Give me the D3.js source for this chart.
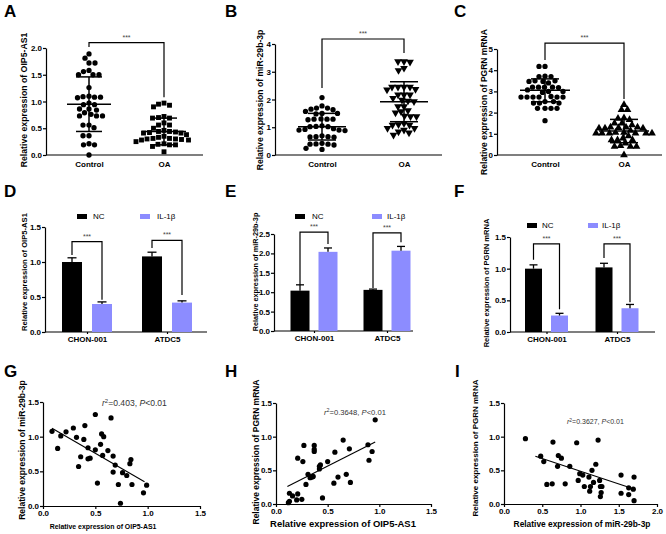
<!DOCTYPE html>
<html lang="en">
<head>
<meta charset="utf-8">
<title>OIP5-AS1 / miR-29b-3p / PGRN</title>
<script src="https://cdn.jsdelivr.net/npm/d3@7"></script>
<style>
  body { margin: 0; background: #fff; }
  svg { font-family: "Liberation Sans", Arial, sans-serif; }
  .axis path, .axis line, .base { stroke: #000; stroke-width: 1.2; fill: none; }
  .axis text { font-size: 8px; font-weight: bold; fill: #000; }
  .title { font-weight: bold; fill: #000; }
  .letter { font-size: 17px; font-weight: bold; }
  .stars { font-size: 7px; fill: #444; text-anchor: middle; }
  .bracket { stroke: #000; stroke-width: 1.2; fill: none; }
  .legend { font-size: 8px; fill: #000; }
  .note { fill: #333; }
</style>
</head>
<body>
<script>
// ---------- A-C: scatter of individual samples ----------
var groupsAC = ["Control", "OA"]

var aControl = [1.89, 1.81, 1.72, 1.72, 1.56, 1.5, 1.5, 1.5, 1.58, 1.26, 1.08, 1.1, 1.09, 1.08, 1.07,
  0.97, 0.94, 0.94, 0.86, 0.84, 0.86, 0.73, 0.73, 0.73, 0.76, 0.79, 0.56, 0.56, 0.51, 0.36, 0.36,
  0.19, 0.19, 0.21, 0.0]
var aOA = [0.95, 0.9, 0.93, 0.97, 0.69, 0.72, 0.69, 0.7, 0.56, 0.56, 0.6, 0.41, 0.42, 0.44, 0.46,
  0.41, 0.44, 0.43, 0.3, 0.31, 0.28, 0.33, 0.31, 0.28, 0.29, 0.3, 0.19, 0.2, 0.16, 0.19, 0.21,
  0.06, 0.38, 0.5, 0.25, 0.35]
var aMean = [0.95, 0.44]
var aSD = [0.51, 0.25]

var bControl = [2.07, 1.69, 1.63, 1.65, 1.69, 1.77, 1.5, 1.57, 1.5, 1.48, 1.29, 1.27, 1.29, 1.3, 1.29,
  1.05, 1.02, 1.03, 1.02, 0.9, 0.9, 0.88, 0.92, 0.66, 0.64, 0.66, 0.69, 0.65, 0.42, 0.39, 0.36,
  0.4, 0.39, 0.2, 0.24, 0.95]
var bOA = [3.37, 3.35, 3.37, 3.13, 3.05, 2.45, 2.45, 2.45, 2.45, 2.37, 2.35, 2.17, 2.17, 2.17, 2.05,
  1.93, 1.98, 1.95, 1.75, 1.75, 1.57, 1.52, 1.6, 1.39, 1.39, 1.41, 1.08, 1.08, 1.1, 1.14, 0.96,
  0.9, 0.84, 0.96, 0.72, 0.8]
var bMean = [1.02, 1.92]
var bSD = [0.48, 0.72]

var cControl = [4.18, 4.18, 3.7, 3.72, 3.7, 3.5, 3.47, 3.4, 3.47, 3.5, 3.2, 3.2, 3.18, 3.2, 3.2,
  3.0, 3.07, 3.0, 2.95, 2.73, 2.73, 2.73, 2.76, 2.73, 2.73, 2.73, 2.45, 2.45, 2.45, 2.52, 2.52,
  2.2, 2.2, 2.2, 2.2, 1.62]
var cOA = [2.37, 2.13, 2.13, 1.72, 1.75, 1.5, 1.42, 1.5, 1.66, 1.31, 1.26, 1.26, 1.31, 1.31, 1.26,
  1.29, 1.03, 1.03, 1.03, 1.03, 1.03, 1.06, 1.06, 1.03, 0.71, 0.71, 0.79, 0.71, 0.4, 0.4, 0.4,
  0.43, 0.0, 0.9, 0.55, 1.15]
var cMean = [3.05, 1.13]
var cSD = [0.54, 0.55]

// significance brackets: [top, left leg bottom, right leg bottom] in data units
var aBracket = [2.1, 2.02, 1.08]
var bBracket = [4.18, 2.41, 3.68]
var cBracket = [5.28, 4.48, 2.64]

// ---------- D-F: bar charts, mean + SEM ----------
var cellLines = ["CHON-001", "ATDC5"]
var treatments = ["NC", "IL-1β"]

var dNC = [1.0, 1.08], dNCerr = [0.06, 0.06]
var dIL = [0.40, 0.42], dILerr = [0.03, 0.025]
var eNC = [1.04, 1.06], eNCerr = [0.15, 0.02]
var eIL = [2.04, 2.07], eILerr = [0.1, 0.11]
var fNC = [1.0, 1.02], fNCerr = [0.06, 0.065]
var fIL = [0.26, 0.375], fILerr = [0.035, 0.06]

var dBrackets = [[1.29, 1.1, 0.46], [1.31, 1.2, 0.53]]
var eBrackets = [[2.55, 1.19, 2.24], [2.53, 1.11, 2.29]]
var fBrackets = [[1.39, 1.14, 0.36], [1.39, 1.17, 0.47]]

// ---------- G-I: correlations ----------
var gX = [0.086, 0.14, 0.17, 0.22, 0.29, 0.32, 0.34, 0.36, 0.40, 0.39, 0.43, 0.43, 0.45, 0.50, 0.50,
  0.52, 0.55, 0.56, 0.58, 0.57, 0.62, 0.65, 0.67, 0.69, 0.67, 0.72, 0.74, 0.76, 0.80, 0.83, 0.84,
  0.85, 0.96, 0.99]
var gY = [1.077, 0.83, 1.01, 1.07, 1.125, 0.99, 0.57, 0.71, 1.16, 0.96, 0.84, 0.68, 0.69, 1.32, 0.81,
  0.33, 0.89, 1.04, 1.0, 0.73, 0.80, 1.27, 0.72, 0.59, 0.49, 0.31, 0.04, 0.48, 0.44, 0.61, 0.67,
  0.31, 0.19, 0.30]
var gFit = [[0.086, 1.12], [0.97, 0.35]]

var hX = [0.12, 0.13, 0.13, 0.16, 0.2, 0.21, 0.25, 0.21, 0.26, 0.27, 0.29, 0.31, 0.33, 0.35, 0.36,
  0.37, 0.37, 0.37, 0.42, 0.43, 0.42, 0.45, 0.5, 0.56, 0.57, 0.6, 0.65, 0.68, 0.71, 0.72, 0.89,
  0.9, 0.93, 0.96]
var hY = [0.02, 0.04, 0.16, 0.12, 0.06, 0.15, 0.07, 0.68, 0.63, 0.87, 0.29, 0.44, 0.39, 0.40, 0.41,
  0.87, 0.81, 0.78, 0.56, 0.58, 0.52, 0.09, 0.63, 0.31, 0.77, 0.40, 0.95, 0.44, 0.82, 0.32, 0.88,
  0.65, 0.78, 1.25]
var hFit = [[0.11, 0.26], [0.96, 0.92]]

var iX = [0.28, 0.48, 0.52, 0.56, 0.63, 0.64, 0.70, 0.71, 0.75, 0.80, 0.86, 0.95, 0.97, 0.99, 1.03,
  1.05, 1.11, 1.12, 1.13, 1.15, 1.17, 1.20, 1.23, 1.25, 1.26, 1.26, 1.27, 1.28, 1.53, 1.53, 1.63,
  1.63, 1.69, 1.70, 1.70]
var iY = [0.97, 0.71, 0.63, 0.29, 0.30, 0.92, 0.56, 0.72, 0.68, 0.30, 0.56, 0.91, 0.35, 0.45, 0.43,
  0.26, 0.40, 0.19, 0.26, 0.50, 0.32, 0.59, 0.95, 0.35, 0.26, 0.11, 0.17, 0.26, 0.43, 0.16, 0.14,
  0.24, 0.22, 0.40, 0.05]
var iFit = [[0.41, 0.71], [1.65, 0.24]]

var purple = "#8c8cff"

var svg = d3.select("body").append("svg")
  .attr("width", 666)
  .attr("height", 534)

// scale a text so that it spans w pixels
function fit(sel, w) {
  sel.style("font-size", "10px")
  var len = sel.node().getComputedTextLength()
  sel.style("font-size", (10 * w / len) + "px")
  return sel
}

function yTitle(t, spec) {
  var s = svg.append("text").attr("class", "title")
    .attr("text-anchor", "middle")
    .attr("dy", "0.35em")
    .attr("transform", "translate(" + spec[0] + "," + spec[1] + ") rotate(-90)")
    .text(t)
  fit(s, spec[2])
}

function xTitle(t, spec) {
  var s = svg.append("text").attr("class", "title")
    .attr("text-anchor", "middle")
    .attr("x", spec[0]).attr("y", spec[1]).attr("dy", "0.35em")
    .text(t)
  fit(s, spec[2])
}

function letter(t, x, y) {
  svg.append("text").attr("class", "letter").attr("x", x).attr("y", y).text(t)
}

function yAxis(L, y) {
  var ticks = d3.range(0, L.max + 1e-9, L.step)
  svg.append("g").attr("class", "axis")
    .attr("transform", "translate(" + L.x0 + ",0)")
    .call(d3.axisLeft(y).tickValues(ticks).tickFormat(d3.format(L.fmt))
      .tickSize(3).tickSizeOuter(0).tickPadding(1))
}

function bracket(xl, xr, y, b) {
  svg.append("path").attr("class", "bracket")
    .attr("d", "M" + xl + "," + y(b[1]) + "V" + y(b[0]) + "H" + xr + "V" + y(b[2]))
  svg.append("text").attr("class", "stars")
    .attr("x", (xl + xr) / 2).attr("y", y(b[0]) - 3)
    .text("***")
}

// simple beeswarm: offsets from the group centre so that markers don't overlap
function swarm(vals, y, dist) {
  var order = vals.map(function (v, i) { return i })
    .sort(function (a, b) { return vals[b] - vals[a] })
  var placed = []
  var off = new Array(vals.length)
  order.forEach(function (i) {
    var py = y(vals[i])
    for (var k = 0; k < 400; k++) {
      var dx = (k % 2 ? -1 : 1) * Math.ceil(k / 2) * 0.5
      var hit = placed.some(function (p) {
        return (dx - p[0]) * (dx - p[0]) + (py - p[1]) * (py - p[1]) < dist * dist
      })
      if (!hit) break
    }
    placed.push([dx, py])
    off[i] = dx
  })
  return off
}

function dotPanel(L, series, means, sds, shapes, br) {
  var y = d3.scaleLinear().domain([0, L.max]).range([L.yb, L.yt])
  var x = d3.scalePoint().domain(groupsAC).range([L.c0, L.c1])
  yAxis(L, y)
  svg.append("line").attr("class", "base")
    .attr("x1", L.x0).attr("x2", L.x1).attr("y1", L.yb).attr("y2", L.yb)
  svg.append("g").attr("class", "axis")
    .attr("transform", "translate(0," + L.yb + ")")
    .call(d3.axisBottom(x).tickSize(0).tickPadding(6))
    .call(function (g) { g.select(".domain").remove() })

  series.forEach(function (vals, i) {
    var cx = x(groupsAC[i])
    var off = swarm(vals, y, 5.6)
    var sh = shapes[i]
    svg.append("g").selectAll("path").data(vals).enter().append("path")
      .attr("d", d3.symbol().type(sh.type).size(sh.size))
      .attr("fill", "#000")
      .attr("transform", function (d, j) {
        return "translate(" + (cx + off[j]) + "," + y(d) + ")" + (sh.flip ? " rotate(180)" : "")
      })
    var m = means[i], s = sds[i]
    var eb = svg.append("g").attr("stroke", "#000").attr("stroke-width", 1.5)
    eb.append("line").attr("x1", cx - L.meanW).attr("x2", cx + L.meanW)
      .attr("y1", y(m)).attr("y2", y(m))
    eb.append("line").attr("x1", cx).attr("x2", cx)
      .attr("y1", y(m - s)).attr("y2", y(m + s))
    ;[m - s, m + s].forEach(function (v) {
      eb.append("line").attr("x1", cx - L.sdW).attr("x2", cx + L.sdW)
        .attr("y1", y(v)).attr("y2", y(v))
    })
  })
  bracket(x(groupsAC[0]), x(groupsAC[1]), y, br)
}

function barPanel(L, nc, ncErr, il, ilErr, brs) {
  var y = d3.scaleLinear().domain([0, L.max]).range([L.yb, L.yt])
  var x = d3.scalePoint().domain(cellLines).range([L.c0, L.c1])
  var half = L.off + L.bw / 2
  var xs = d3.scaleBand().domain(treatments).range([-half, half])
    .paddingInner(1 - L.bw / (2 * L.off))
  yAxis(L, y)
  svg.append("line").attr("class", "base")
    .attr("x1", L.x0).attr("x2", L.x1).attr("y1", L.yb).attr("y2", L.yb)
  svg.append("g").attr("class", "axis")
    .attr("transform", "translate(0," + L.yb + ")")
    .call(d3.axisBottom(x).tickSize(2).tickPadding(2))
    .call(function (g) { g.select(".domain").remove() })

  var sets = [[nc, ncErr, "#000"], [il, ilErr, purple]]
  sets.forEach(function (set, k) {
    var t = treatments[k]
    cellLines.forEach(function (c, i) {
      var bx = x(c) + xs(t)
      var v = set[0][i], e = set[1][i]
      svg.append("rect").attr("x", bx).attr("width", xs.bandwidth())
        .attr("y", y(v)).attr("height", y(0) - y(v)).attr("fill", set[2])
      var mx = bx + xs.bandwidth() / 2
      var eg = svg.append("g").attr("stroke", "#000").attr("stroke-width", 1.3)
      eg.append("line").attr("x1", mx).attr("x2", mx).attr("y1", y(v)).attr("y2", y(v + e))
      eg.append("line").attr("x1", mx - L.cap / 2).attr("x2", mx + L.cap / 2)
        .attr("y1", y(v + e)).attr("y2", y(v + e))
    })
  })
  cellLines.forEach(function (c, i) {
    var xl = x(c) + xs(treatments[0]) + xs.bandwidth() / 2
    var xr = x(c) + xs(treatments[1]) + xs.bandwidth() / 2
    bracket(xl, xr, y, brs[i])
  })
  // legend
  treatments.forEach(function (t, k) {
    svg.append("rect").attr("x", L.leg[k]).attr("y", L.legY - 5)
      .attr("width", 10).attr("height", 5).attr("fill", k ? purple : "#000")
    svg.append("text").attr("class", "legend")
      .attr("x", L.legT[k]).attr("y", L.legY).text(t)
  })
}

function corrPanel(L, xv, yv, line, r2) {
  var x = d3.scaleLinear().domain([0, L.xmax]).range([L.x0, L.x1])
  var y = d3.scaleLinear().domain([0, L.max]).range([L.yb, L.yt])
  yAxis(L, y)
  svg.append("g").attr("class", "axis")
    .attr("transform", "translate(0," + L.yb + ")")
    .call(d3.axisBottom(x).tickValues(d3.range(0, L.xmax + 1e-9, 0.5))
      .tickFormat(d3.format(".1f")).tickSize(3).tickSizeOuter(0).tickPadding(1))
  svg.append("g").selectAll("circle").data(xv).enter().append("circle")
    .attr("cx", function (d) { return x(d) })
    .attr("cy", function (d, i) { return y(yv[i]) })
    .attr("r", 2.6)
    .attr("fill", "#000")
  svg.append("line").attr("stroke", "#000").attr("stroke-width", 1.1)
    .attr("x1", x(line[0][0])).attr("y1", y(line[0][1]))
    .attr("x2", x(line[1][0])).attr("y2", y(line[1][1]))
  var t = svg.append("text").attr("class", "note")
    .attr("x", L.note[0]).attr("y", L.note[1])
  t.append("tspan").attr("font-style", "italic").text("r")
  t.append("tspan").attr("baseline-shift", "super").attr("font-size", "70%").text("2")
  t.append("tspan").text("=" + r2 + ", ")
  t.append("tspan").attr("font-style", "italic").text("P")
  t.append("tspan").text("<0.01")
  fit(t, L.note[2])
}

// ---------- layout ----------
var circle = { type: d3.symbolCircle, size: 22 }

dotPanel({ x0: 46, x1: 203, yb: 155, yt: 48, max: 2, step: 0.5, fmt: ".1f", c0: 89, c1: 164, meanW: 22, sdW: 13 },
  [aControl, aOA], aMean, aSD, [circle, { type: d3.symbolSquare, size: 24 }], aBracket)
dotPanel({ x0: 275, x1: 442, yb: 155, yt: 44, max: 4, step: 1, fmt: "d", c0: 322, c1: 404, meanW: 24, sdW: 14 },
  [bControl, bOA], bMean, bSD, [circle, { type: d3.symbolTriangle, size: 26, flip: true }], bBracket)
dotPanel({ x0: 497, x1: 662, yb: 155, yt: 49, max: 5, step: 1, fmt: "d", c0: 545, c1: 624, meanW: 25, sdW: 14 },
  [cControl, cOA], cMean, cSD, [circle, { type: d3.symbolTriangle, size: 26 }], cBracket)

barPanel({ x0: 45, x1: 207, yb: 332, yt: 227, max: 1.5, step: 0.5, fmt: ".1f", c0: 87, c1: 167, bw: 20, off: 15, cap: 9,
  leg: [77, 140], legT: [93, 157], legY: 219 }, dNC, dNCerr, dIL, dILerr, dBrackets)
barPanel({ x0: 274, x1: 413, yb: 331, yt: 234, max: 2.5, step: 0.5, fmt: ".1f", c0: 314, c1: 387, bw: 19, off: 14, cap: 8,
  leg: [295, 372], legT: [312, 387], legY: 219 }, eNC, eNCerr, eIL, eILerr, eBrackets)
barPanel({ x0: 510, x1: 655, yb: 332, yt: 237, max: 1.5, step: 0.5, fmt: ".1f", c0: 546.5, c1: 617, bw: 17, off: 13, cap: 8,
  leg: [527, 588], legT: [542, 602], legY: 228 }, fNC, fNCerr, fIL, fILerr, fBrackets)

corrPanel({ x0: 43, x1: 200, xmax: 1.5, yb: 506, yt: 402, max: 1.5, step: 0.5, fmt: ".1f", note: [102, 406, 65] },
  gX, gY, gFit, "0.403")
corrPanel({ x0: 276, x1: 431, xmax: 1.5, yb: 504, yt: 403, max: 1.5, step: 0.5, fmt: ".1f", note: [324, 415, 62] },
  hX, hY, hFit, "0.3648")
corrPanel({ x0: 504, x1: 657, xmax: 2, yb: 504, yt: 403, max: 1.5, step: 0.5, fmt: ".1f", note: [567, 424, 57] },
  iX, iY, iFit, "0.3627")

yTitle("Relative expression of OIP5-AS1", [24, 100, 135])
yTitle("Relative expression of miR-29b-3p", [260, 100, 141])
yTitle("Relative expression of PGRN mRNA", [484, 102, 146])
yTitle("Relative expression of OIP5-AS1", [24, 272, 118])
yTitle("Relative expression of miR-29b-3p", [255, 272, 119])
yTitle("Relative expression of PGRN mRNA", [486, 283, 129])
yTitle("Relative expression of miR-29b-3p", [22, 450, 140])
yTitle("Relative expression of PGRN mRNA", [256, 452, 145])
yTitle("Relative expression of PGRN mRNA", [475, 448, 137])
xTitle("Relative expression of OIP5-AS1", [103, 527, 107])
xTitle("Relative expression of OIP5-AS1", [343, 524, 146])
xTitle("Relative expression of miR-29b-3p", [582, 524, 137])

letter("A", 4, 17); letter("B", 225, 17); letter("C", 454, 17)
letter("D", 4, 197); letter("E", 225, 197); letter("F", 454, 197)
letter("G", 4, 377); letter("H", 225, 377); letter("I", 455, 377)
</script>
</body>
</html>
